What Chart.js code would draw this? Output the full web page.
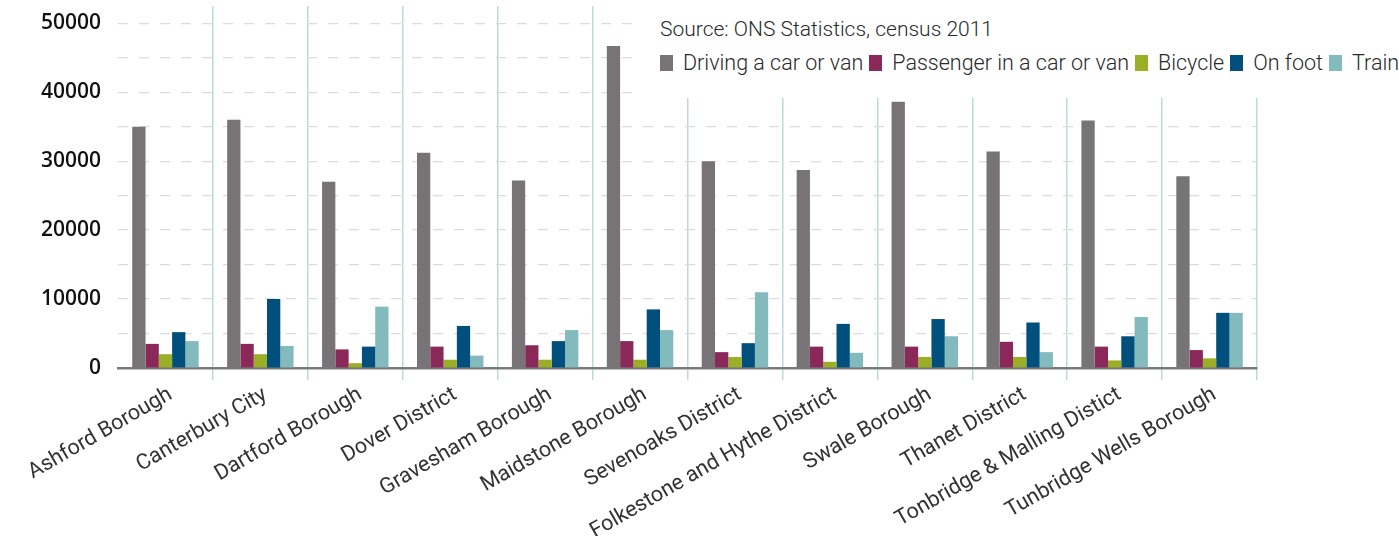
<!DOCTYPE html>
<html>
<head>
<meta charset="utf-8">
<script src="https://cdn.jsdelivr.net/npm/chart.js@4"></script>
<style>
    html, body { margin: 0; padding: 0; background: #fff; }
    #wrap { position: relative; width: 1399px; height: 536px; }
    #legendBox { position: absolute; left: 633px; top: 0; width: 766px; height: 98px; background: #fff; font-family: Roboto, sans-serif; color: #2a2a2a; }
    #source { position: absolute; left: 27px; top: 17px; font-size: 21px; font-weight: 300; white-space: nowrap; }
    #items { position: absolute; left: 27px; top: 50px; display: flex; font-size: 21.5px; font-weight: 300; white-space: nowrap; }
    .item { display: flex; align-items: center; margin-right: 6px; }
    .sw { width: 13px; height: 16px; margin-right: 10px; }
</style>
</head>
<body>
<div id="wrap">
    <canvas id="grafik" width="1399" height="536"></canvas>
    <div id="legendBox">
        <div id="source">Source: ONS Statistics, census 2011</div>
        <div id="items"></div>
    </div>
</div>
<script>
// districts on the x axis
const districts = [
    'Ashford Borough', 'Canterbury City', 'Dartford Borough', 'Dover District',
    'Gravesham Borough', 'Maidstone Borough', 'Sevenoaks District',
    'Folkestone and Hythe District', 'Swale Borough', 'Thanet District',
    'Tonbridge & Malling Distict', 'Tunbridge Wells Borough'
];

// travel to work, census 2011
const driving   = [35000, 36000, 27000, 31200, 27200, 46700, 30000, 28700, 38600, 31400, 35900, 27800];
const passenger = [3500, 3500, 2700, 3100, 3300, 3900, 2300, 3100, 3100, 3800, 3100, 2600];
const bicycle   = [2000, 2000, 700, 1200, 1200, 1200, 1600, 900, 1600, 1600, 1100, 1400];
const onFoot    = [5200, 10000, 3100, 6100, 3900, 8500, 3600, 6400, 7100, 6600, 4600, 8000];
const train     = [3900, 3200, 8900, 1800, 5500, 5500, 11000, 2200, 4600, 2300, 7400, 8000];

const seriesNames = ['Driving a car or van', 'Passenger in a car or van', 'Bicycle', 'On foot', 'Train'];
const seriesColors = ['#787376', '#8a2859', '#9aae26', '#004f7c', '#82babd'];

// y axis tick labels (grid every 5000, labels every 10000)
const yTicks = [0, 10000, 20000, 30000, 40000, 50000];

const seriesData = [driving, passenger, bicycle, onFoot, train];

const datasets = seriesData.map((d, i) => ({
    label: seriesNames[i],
    data: d,
    backgroundColor: seriesColors[i],
    borderWidth: 0
}));

const grf = document.getElementById('grafik').getContext('2d');

const chart = new Chart(grf, {
    type: 'bar',
    data: { labels: districts, datasets: datasets },
    options: {
        responsive: false,
        animation: false,
        layout: { padding: { top: 6, right: 142, left: 0, bottom: 0 } },
        datasets: { bar: { categoryPercentage: 0.7, barPercentage: 1 } },
        plugins: {
            legend: { display: false },
            tooltip: { enabled: false }
        },
        scales: {
            x: {
                grid: {
                    offset: true,
                    color: c => (c.index === 0 || c.index === districts.length) ? 'rgba(0,0,0,0)' : '#b9dbde',
                    lineWidth: 1.5,
                    tickLength: 12
                },
                border: { display: true, color: '#7b7b7b', width: 2.5 },
                ticks: {
                    autoSkip: false,
                    minRotation: 30,
                    maxRotation: 30,
                    padding: 2,
                    labelOffset: 5,
                    color: '#333',
                    font: { family: 'Roboto', size: 21.5, weight: '400' }
                },
                afterFit: s => { s.height = 168; }
            },
            y: {
                min: 0,
                max: 52500,
                afterBuildTicks: s => {
                    const t = [];
                    for (let v = 0; v <= yTicks[yTicks.length - 1]; v += 5000) t.push({ value: v });
                    s.ticks = t;
                },
                ticks: {
                    padding: 17,
                    color: '#111',
                    font: { family: 'Open Sans', size: 21, weight: '600' },
                    callback: v => yTicks.includes(v) ? v : ''
                },
                grid: {
                    color: '#dcdcdc',
                    lineWidth: 1.2,
                    drawTicks: false
                },
                border: { display: false, dash: [10, 11] },
                afterFit: s => { s.width = 118; s.paddingTop = 0; s.paddingBottom = 0; }
            }
        }
    }
});

// legend in html, from the datasets
const items = document.getElementById('items');
chart.data.datasets.forEach(ds => {
    const it = document.createElement('div');
    it.className = 'item';
    const sw = document.createElement('span');
    sw.className = 'sw';
    sw.style.background = ds.backgroundColor;
    const tx = document.createElement('span');
    tx.textContent = ds.label;
    it.appendChild(sw);
    it.appendChild(tx);
    items.appendChild(it);
});
</script>
</body>
</html>
